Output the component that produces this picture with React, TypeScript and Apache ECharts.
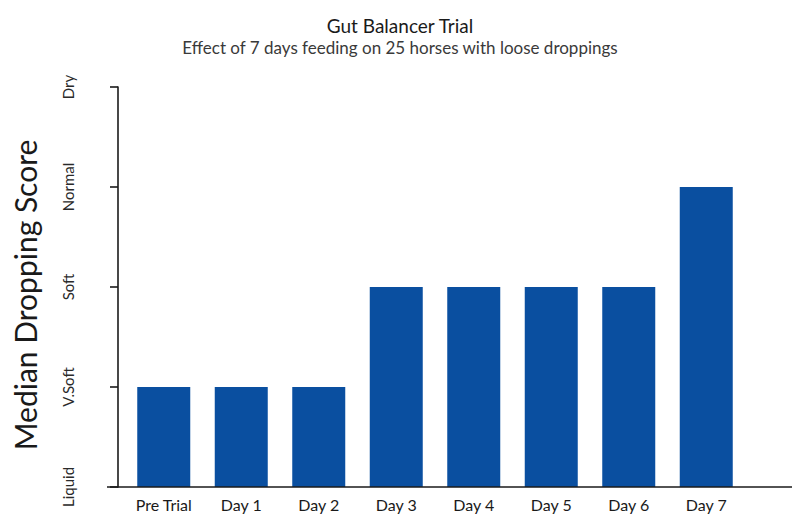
import React, { useEffect, useRef } from "react";
import * as echarts from "echarts";

const categories = ["Pre Trial", "Day 1", "Day 2", "Day 3", "Day 4", "Day 5", "Day 6", "Day 7"];
const medianScores = [1, 1, 1, 2, 2, 2, 2, 3];
const scoreLabels = ["Liquid", "V.Soft", "Soft", "Normal", "Dry"];

const FONT = "Lato, 'Open Sans', sans-serif";

export default function App() {
  const ref = useRef<HTMLDivElement>(null);
  useEffect(() => {
    if (!ref.current) return;
    const chart = echarts.init(ref.current, undefined, { renderer: "svg" });
    chart.setOption({
      animation: false,
      backgroundColor: "#ffffff",
      title: {
        text: "Gut Balancer Trial",
        subtext: "Effect of 7 days feeding on 25 horses with loose droppings",
        left: "center",
        top: 11,
        itemGap: 4,
        textStyle: { fontFamily: FONT, fontSize: 19, fontWeight: "normal", color: "#1a1a1a" },
        subtextStyle: { fontFamily: FONT, fontSize: 17, color: "#3a3a3a" },
      },
      grid: { left: 125, top: 87, width: 620, height: 400, containLabel: false },
      xAxis: {
        type: "category",
        data: categories,
        axisLine: { show: false },
        axisTick: { show: false },
        axisLabel: { fontFamily: FONT, fontSize: 16, color: "#1a1a1a", margin: 9, interval: 0 },
      },
      yAxis: {
        type: "value",
        min: 0,
        max: 4,
        interval: 1,
        offset: 7,
        name: "Median Dropping Score",
        nameLocation: "middle",
        nameRotate: 90,
        nameGap: 78,
        nameTextStyle: { fontFamily: FONT, fontSize: 30, color: "#1a1a1a", padding: [0, 16, 0, 0] },
        axisLine: { show: true, lineStyle: { color: "#1a1a1a", width: 1.6 } },
        axisTick: { show: true, length: 8, lineStyle: { color: "#1a1a1a", width: 1.6 } },
        splitLine: { show: false },
        axisLabel: {
          rotate: 90,
          margin: 43,
          fontFamily: FONT,
          fontSize: 15,
          color: "#2a2a2a",
          formatter: (v: number) => scoreLabels[v] ?? "",
        },
      },
      graphic: [
        {
          type: "line",
          shape: { x1: 107, y1: 487, x2: 792, y2: 487 },
          style: { stroke: "#1a1a1a", lineWidth: 1.6 },
          z: 10,
        },
      ],
      series: [
        {
          type: "bar",
          data: medianScores,
          barWidth: 53,
          itemStyle: { color: "#0A4FA0" },
        },
      ],
    });
    return () => chart.dispose();
  }, []);
  return (
    <div
      ref={ref}
      style={{ position: "absolute", left: 0, top: 0, width: 800, height: 516 }}
    />
  );
}
